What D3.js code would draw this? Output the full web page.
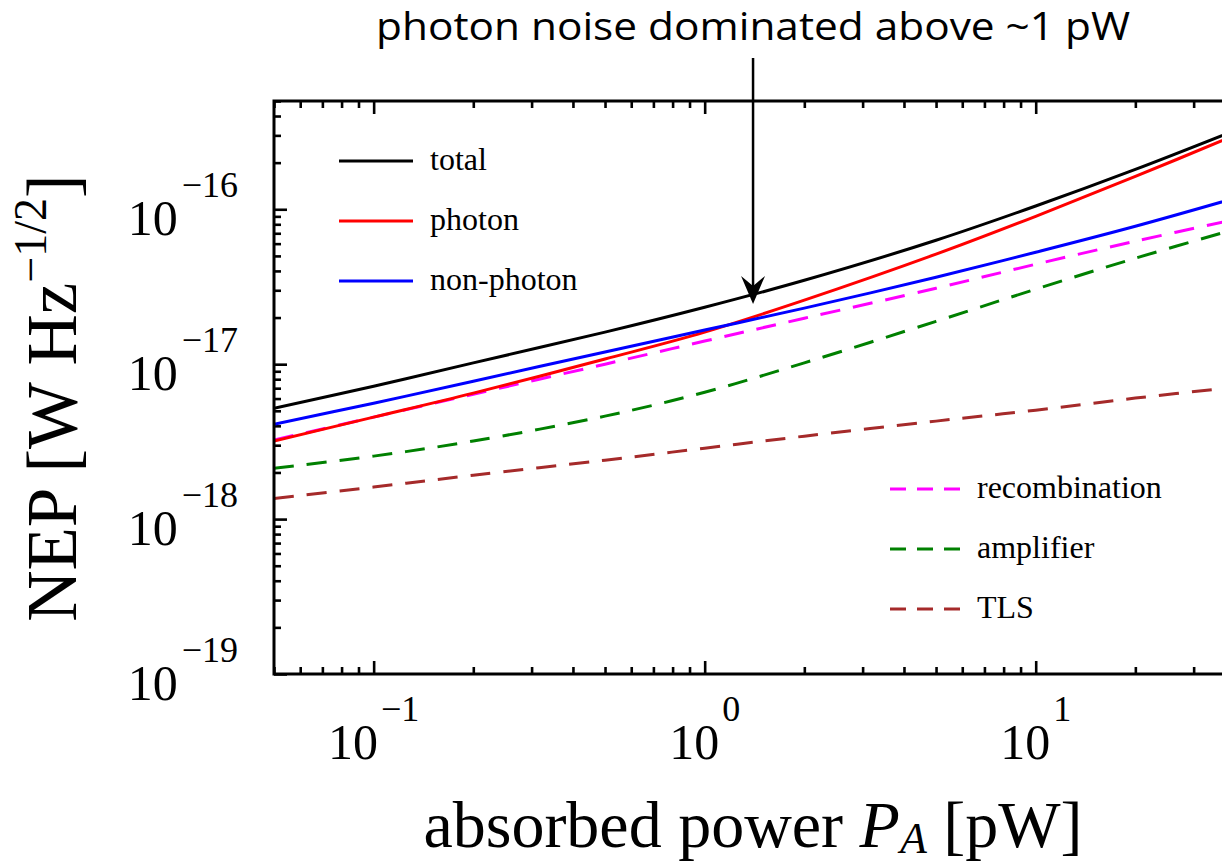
<!DOCTYPE html>
<html>
<head>
<meta charset="utf-8">
<script src="https://cdn.jsdelivr.net/npm/d3@7"></script>
<style>
  body { margin: 0; background: #fff; }
  svg { display: block; }
</style>
</head>
<body>
<svg></svg>
<script>
// absorbed power in pW
const power = [0.05, 0.1, 0.2, 0.5, 1, 2, 5, 10, 20, 40]
// NEP values in W Hz^-1/2
const total = [5.2e-18, 7.21e-18, 1.02e-17, 1.61e-17, 2.33e-17, 3.48e-17, 6.31e-17, 1.05e-16, 1.81e-16, 3.23e-16]
const photon = [3.19e-18, 4.55e-18, 6.5e-18, 1.08e-17, 1.61e-17, 2.59e-17, 5.13e-17, 9.01e-17, 1.63e-16, 3.0e-16]
const nonPhoton = [4.1e-18, 5.6e-18, 7.76e-18, 1.2e-17, 1.66e-17, 2.3e-17, 3.64e-17, 5.28e-17, 7.77e-17, 1.18e-16]
const recombination = [3.24e-18, 4.55e-18, 6.4e-18, 1.0e-17, 1.41e-17, 1.98e-17, 3.09e-17, 4.42e-17, 6.22e-17, 8.61e-17]
const amplifier = [2.13e-18, 2.55e-18, 3.19e-18, 4.62e-18, 6.59e-18, 1.02e-17, 1.89e-17, 3.05e-17, 4.83e-17, 7.43e-17]
const tls = [1.36e-18, 1.61e-18, 1.92e-18, 2.4e-18, 2.87e-18, 3.43e-18, 4.29e-18, 5.05e-18, 6.04e-18, 7.11e-18]

const seriesNames = ['total', 'photon', 'non-photon', 'recombination', 'amplifier', 'TLS']
const xMajorTicks = [0.1, 1, 10]
const xTickExponents = ['\u22121', '0', '1']
const yMajorTicks = [1e-19, 1e-18, 1e-17, 1e-16]
const yTickExponents = ['\u221219', '\u221218', '\u221217', '\u221216']

const annotation = 'photon noise dominated above ~1 pW'
const arrowPower = 1.4
const arrowTipNep = 2.45e-17

const width = 1222
const height = 865
const plotLeft = 274
const plotRight = 1235
const plotTop = 101
const plotBottom = 674
const serif = '"Liberation Serif", "Times New Roman", serif'

const svg = d3.select('svg')
              .attr('width', width)
              .attr('height', height)

const x = d3.scaleLog()
            .domain([0.05, 40])
            .range([plotLeft, plotRight])

const y = d3.scaleLog()
            .domain([1e-19, 5e-16])
            .range([plotBottom, plotTop])

const isMajor = v => Math.abs(Math.log10(v) - Math.round(Math.log10(v))) < 1e-6
const xMinor = x.ticks().filter(v => !isMajor(v))
const yMinor = y.ticks().filter(v => !isMajor(v))

// ticks on all four sides, pointing inward
const tickAxes = [
  [d3.axisBottom(x), `translate(0, ${plotBottom})`, xMajorTicks, xMinor],
  [d3.axisTop(x), `translate(0, ${plotTop})`, xMajorTicks, xMinor],
  [d3.axisLeft(y), `translate(${plotLeft}, 0)`, yMajorTicks, yMinor],
  [d3.axisRight(y), `translate(${plotRight}, 0)`, yMajorTicks, yMinor]
]
tickAxes.forEach(([axis, transform, major, minor]) => {
  [[major, -13], [minor, -7]].forEach(([values, size]) => {
    const g = svg.append('g')
                 .attr('transform', transform)
                 .call(axis.tickValues(values).tickSize(size).tickFormat(''))
    g.select('.domain').remove()
    g.selectAll('line').attr('stroke', '#000').attr('stroke-width', 2.6)
  })
})

svg.append('defs')
   .append('clipPath')
   .attr('id', 'plot-clip')
   .append('rect')
   .attr('x', plotLeft)
   .attr('y', plotTop)
   .attr('width', plotRight - plotLeft)
   .attr('height', plotBottom - plotTop)

const series = [
  { name: seriesNames[0], values: total, color: '#000000', dash: null },
  { name: seriesNames[1], values: photon, color: '#ff0000', dash: null },
  { name: seriesNames[2], values: nonPhoton, color: '#0000ff', dash: null },
  { name: seriesNames[3], values: recombination, color: '#ff00ff', dash: '20,13' },
  { name: seriesNames[4], values: amplifier, color: '#008000', dash: '20,13' },
  { name: seriesNames[5], values: tls, color: '#a52a2a', dash: '20,13' }
]

const line = d3.line()
               .x((d, i) => x(power[i]))
               .y(d => y(d))
               .curve(d3.curveCatmullRom.alpha(0.5))

// dashed first so the solid lines sit on top, as in the figure
svg.append('g')
   .attr('clip-path', 'url(#plot-clip)')
   .selectAll('path')
   .data(series.slice(3).concat(series.slice(0, 3)))
   .join('path')
   .attr('d', d => line(d.values))
   .attr('fill', 'none')
   .attr('stroke', d => d.color)
   .attr('stroke-width', 3)
   .attr('stroke-dasharray', d => d.dash)

svg.append('rect')
   .attr('x', plotLeft)
   .attr('y', plotTop)
   .attr('width', plotRight - plotLeft)
   .attr('height', plotBottom - plotTop)
   .attr('fill', 'none')
   .attr('stroke', '#000')
   .attr('stroke-width', 3)

// legends
const legendRows = [
  ...series.slice(0, 3).map((s, i) => ({ ...s, lx: 339, ly: 161 + i * 60, len: 74 })),
  ...series.slice(3).map((s, i) => ({ ...s, lx: 890, ly: 489 + i * 60, len: 70 }))
]
const legend = svg.append('g')
                  .selectAll('g')
                  .data(legendRows)
                  .join('g')
legend.append('line')
      .attr('x1', d => d.lx)
      .attr('x2', d => d.lx + d.len)
      .attr('y1', d => d.ly)
      .attr('y2', d => d.ly)
      .attr('stroke', d => d.color)
      .attr('stroke-width', 3)
      .attr('stroke-dasharray', d => d.dash ? '16,11' : null)
legend.append('text')
      .attr('x', d => d.lx + d.len + 17)
      .attr('y', d => d.ly + 9)
      .style('font-family', serif)
      .style('font-size', '32px')
      .text(d => d.name)

// tick labels 10^n
const xLabels = svg.append('g')
                   .selectAll('text')
                   .data(xMajorTicks.map((v, i) => ({ v, exp: xTickExponents[i] })))
                   .join('text')
                   .attr('x', d => x(d.v))
                   .attr('y', plotBottom + 85)
                   .attr('text-anchor', 'middle')
                   .style('font-family', serif)
                   .style('font-size', '50px')
xLabels.append('tspan').text('10')
xLabels.append('tspan')
       .attr('dx', 3)
       .attr('dy', -38)
       .style('font-size', '36px')
       .text(d => d.exp)

const yLabels = svg.append('g')
                   .selectAll('text')
                   .data(yMajorTicks.map((v, i) => ({ v, exp: yTickExponents[i] })))
                   .join('text')
                   .attr('x', 238)
                   .attr('y', d => y(d.v) + 26)
                   .attr('text-anchor', 'end')
                   .style('font-family', serif)
                   .style('font-size', '50px')
yLabels.append('tspan').text('10')
yLabels.append('tspan')
       .attr('dx', 4)
       .attr('dy', -38)
       .style('font-size', '36px')
       .text(d => d.exp)

// axis titles
const xTitle = svg.append('text')
                  .attr('x', 753)
                  .attr('y', 847)
                  .attr('text-anchor', 'middle')
                  .style('font-family', serif)
                  .style('font-size', '66px')
xTitle.append('tspan').text('absorbed power ')
xTitle.append('tspan').style('font-style', 'italic').text('P')
xTitle.append('tspan').style('font-style', 'italic').style('font-size', '44px').attr('dy', 6).text('A')
xTitle.append('tspan').attr('dy', -6).text(' [pW]')

const yTitle = svg.append('text')
                  .attr('transform', 'translate(76, 398) rotate(-90)')
                  .attr('text-anchor', 'middle')
                  .style('font-family', serif)
                  .style('font-size', '71px')
yTitle.append('tspan').text('NEP [W Hz')
yTitle.append('tspan').attr('dy', -30).style('font-size', '46px').text('\u22121/2')
yTitle.append('tspan').attr('dy', 30).text(']')

// annotation arrow
const ax = x(arrowPower)
const ay = y(arrowTipNep)
svg.append('line')
   .attr('x1', ax)
   .attr('x2', ax)
   .attr('y1', 58)
   .attr('y2', ay - 16)
   .attr('stroke', '#000')
   .attr('stroke-width', 2.5)
svg.append('path')
   .attr('d', `M${ax},${ay} L${ax - 12},${ay - 28} L${ax},${ay - 18} L${ax + 12},${ay - 28} Z`)
   .attr('fill', '#000')

svg.append('text')
   .attr('x', ax)
   .attr('y', 40)
   .attr('text-anchor', 'middle')
   .attr('textLength', 754)
   .attr('lengthAdjust', 'spacingAndGlyphs')
   .style('font-family', '"Open Sans", "Noto Sans", sans-serif')
   .style('font-size', '38px')
   .text(annotation)
</script>
</body>
</html>
